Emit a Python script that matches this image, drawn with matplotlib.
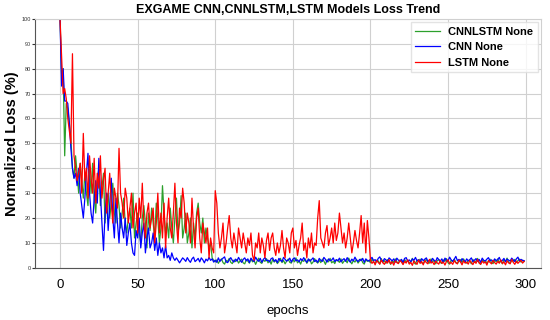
import numpy as np
import matplotlib
matplotlib.use("Agg")
import matplotlib.pyplot as plt

plt.rcParams['font.family'] = ['Liberation Sans', 'DejaVu Sans']

# loss values (%), one per epoch
cnnlstm = [
    100, 78, 80, 45, 66, 64, 58, 52, 40, 36, 45, 38, 30, 42, 35, 28, 38, 30, 25, 40,
    30, 42, 28, 22, 35, 40, 25, 32, 38, 18, 28, 30, 20, 26, 34, 22, 18, 30, 25, 16,
    22, 28, 18, 14, 20, 24, 16, 30, 12, 18, 22, 14, 10, 20, 25, 18, 8, 22, 15, 24,
    18, 12, 26, 20, 10, 16, 33, 22, 14, 18, 12, 24, 16, 10, 20, 28, 14, 18, 29, 12,
    16, 22, 10, 14, 20, 8, 18, 12, 22, 26, 18, 14, 20, 10, 16, 12, 8, 10, 4, 3,
    2.4, 3.2, 1.8, 2.9, 3.6, 2.1, 1.5, 3.0, 2.6, 3.8, 2.2, 1.7, 3.1, 2.5, 3.4, 1.9, 2.8, 3.5, 2.0, 1.6,
    3.3, 2.7, 1.9, 3.6, 2.4, 3.0, 1.4, 2.8, 3.9, 2.2, 1.8, 3.2, 2.6, 3.7, 2.0, 2.9, 1.5, 3.4, 2.3, 3.1,
    1.7, 2.5, 3.8, 2.1, 3.0, 1.6, 2.7, 3.5, 2.2, 1.9, 3.3, 2.4, 4.0, 2.0, 2.8, 1.5, 3.1, 2.6, 3.6, 1.8,
    2.9, 3.4, 1.6, 2.3, 3.7, 2.5, 1.9, 3.0, 2.1, 3.5, 2.7, 1.4, 3.2, 2.4, 3.8, 2.0, 2.6, 1.7, 3.3, 2.9,
    2.2, 3.6, 1.8, 2.7, 3.1, 2.0, 3.9, 2.5, 1.6, 3.0, 2.3, 3.4, 1.9, 2.8, 3.6, 2.1, 1.5, 3.2, 2.6, 3.0,
    2.0, 3.5, 2.4, 1.7, 3.1, 2.8, 1.5, 3.7, 2.2, 2.9, 1.8, 3.3, 2.6, 1.4, 3.0, 2.1, 3.6, 2.4, 1.9, 3.2,
    2.7, 1.6, 3.4, 2.3, 3.0, 1.8, 2.5, 3.8, 2.1, 1.5, 3.1, 2.6, 3.5, 2.0, 1.7, 2.9, 3.3, 2.2, 1.9, 3.6,
    2.4, 3.0, 1.6, 2.8, 3.4, 2.1, 1.8, 3.2, 2.6, 3.7, 2.0, 1.5, 3.1, 2.5, 3.5, 2.2, 1.7, 2.9, 3.3, 2.1,
    3.6, 2.3, 1.9, 3.0, 2.7, 1.6, 3.4, 2.2, 2.8, 3.8, 2.0, 1.5, 3.2, 2.5, 3.0, 1.8, 2.6, 3.5, 2.1, 1.7,
    3.1, 2.4, 3.6, 2.0, 2.8, 1.6, 3.3, 2.5, 3.9, 2.2, 1.8, 3.0, 2.7, 3.4, 2.1, 2.9, 3.5, 2.3, 3.0, 2.6,
]

cnn = [
    100, 73, 80, 67, 67, 66, 58, 48, 40, 36, 38, 33, 40, 30, 25, 20, 28, 38, 46, 30,
    22, 18, 28, 35, 26, 44, 30, 18, 7, 22, 30, 15, 25, 36, 20, 12, 28, 18, 10, 22,
    16, 12, 20, 9, 14, 18, 10, 6, 5, 15, 12, 20, 8, 14, 18, 6, 12, 16, 8, 10,
    14, 7, 12, 5, 10, 6, 8, 4, 9, 4, 5, 3, 6, 4, 3, 4, 3, 2, 3, 4,
    3.4, 2.6, 4.1, 3.0, 2.2, 3.6, 4.3, 2.5, 3.1, 3.8, 2.4, 4.0, 3.2, 2.0, 3.5, 2.8, 4.2, 3.0, 3.6, 2.3,
    3.1, 2.2, 4.0, 2.6, 3.3, 3.9, 4.4, 2.4, 2.1, 3.2, 4.1, 3.0, 2.3, 3.5, 2.7, 4.2, 3.1, 2.2, 3.4, 4.0,
    2.8, 3.6, 2.1, 3.9, 3.0, 2.5, 4.3, 3.2, 2.6, 3.8, 2.2, 3.4, 4.1, 2.9, 3.1, 2.4, 3.7, 4.0, 2.6, 3.3,
    2.1, 3.8, 3.0, 2.5, 4.2, 3.4, 2.7, 3.1, 3.9, 2.3, 3.5, 4.0, 2.8, 3.2, 2.4, 3.7, 2.9, 4.1, 3.0, 2.2,
    3.6, 2.7, 3.3, 4.0, 2.5, 3.1, 2.2, 3.8, 3.0, 2.6, 4.2, 3.4, 2.3, 3.6, 2.9, 3.1, 4.0, 2.5, 3.3, 2.8,
    3.9, 2.4, 3.2, 3.7, 2.6, 4.1, 3.0, 2.3, 3.5, 2.8, 4.3, 3.1, 2.5, 3.4, 2.9, 3.8, 2.2, 3.6, 3.0, 2.7,
    3.5, 4.2, 2.9, 3.3, 2.4, 3.8, 4.4, 3.0, 2.6, 3.7, 3.2, 2.5, 4.0, 3.4, 2.8, 3.6, 2.3, 3.9, 3.1, 2.6,
    3.4, 2.2, 3.8, 4.1, 2.7, 3.2, 2.4, 3.6, 3.0, 4.2, 2.8, 3.3, 2.1, 3.7, 2.9, 3.5, 4.0, 2.6, 3.1, 2.4,
    3.8, 3.0, 2.5, 4.1, 3.3, 2.7, 3.6, 2.2, 3.9, 3.1, 2.8, 4.3, 3.2, 2.6, 3.5, 4.6, 2.9, 3.4, 2.3, 3.7,
    3.0, 2.4, 3.6, 2.8, 3.3, 4.0, 2.5, 3.1, 3.7, 2.6, 3.4, 2.2, 3.9, 3.0, 2.7, 3.5, 4.1, 2.8, 3.2, 2.5,
    3.6, 2.9, 3.3, 4.2, 2.6, 3.0, 3.8, 2.4, 3.5, 3.1, 2.7, 3.9, 3.2, 2.5, 3.6, 4.3, 2.8, 3.4, 3.0, 2.9,
]

lstm = [
    100, 85, 70, 72, 68, 60, 55, 50, 86, 45, 40, 35, 38, 42, 30, 54, 35, 40, 28, 45,
    36, 30, 44, 26, 38, 32, 45, 28, 35, 40, 22, 30, 38, 26, 18, 32, 28, 24, 48, 30,
    26, 20, 32, 28, 18, 24, 30, 16, 22, 26, 14, 28, 20, 34, 18, 12, 22, 26, 16, 20,
    24, 10, 18, 30, 14, 22, 12, 26, 8, 20, 28, 16, 12, 22, 34, 18, 10, 24, 20, 32,
    26, 14, 22, 18, 10, 28, 16, 8, 20, 24, 12, 6, 18, 14, 10, 16, 4, 12, 8, 6,
    31, 26, 14, 8, 12, 18, 6, 10, 16, 21, 12, 8, 14, 10, 6, 16, 12, 8, 14, 10,
    6, 12, 9, 14, 5, 3, 10, 8, 14, 6, 12, 9, 4, 11, 14, 7, 12, 14, 8, 5,
    10, 6, 9, 15, 8, 4, 12, 10, 6, 14, 16, 8, 11, 5, 9, 12, 18, 7, 10, 4,
    12, 8, 14, 6, 10, 9, 20, 27, 12, 10, 8, 14, 17, 9, 12, 16, 10, 18, 11, 14,
    22, 16, 10, 14, 8, 12, 18, 12, 6, 10, 15, 11, 8, 14, 21, 10, 18, 6, 19, 12,
    3.0, 1.8, 2.6, 1.2, 2.9, 2.2, 1.5, 3.1, 2.0, 1.4, 2.7, 1.9, 3.3, 1.6, 2.4, 1.1, 2.8, 2.1, 1.7, 3.0,
    2.3, 1.3, 2.6, 1.9, 3.2, 1.5, 2.2, 1.0, 2.8, 2.0, 1.4, 3.1, 1.8, 2.5, 1.2, 2.9, 2.1, 1.6, 3.4, 1.9,
    2.4, 1.3, 2.7, 2.0, 1.5, 3.0, 1.8, 2.3, 1.1, 2.6, 3.2, 1.7, 2.2, 1.4, 2.9, 2.0, 1.6, 3.1, 2.4, 1.2,
    2.8, 1.9, 2.3, 1.5, 3.0, 2.1, 1.3, 2.6, 1.8, 3.3, 2.0, 1.4, 2.7, 1.9, 2.4, 1.1, 2.9, 2.2, 1.6, 3.0,
    2.1, 1.5, 2.6, 1.9, 3.2, 1.7, 2.4, 1.2, 2.8, 2.0, 1.6, 3.4, 2.2, 1.4, 2.7, 1.8, 2.5, 3.0, 1.9, 2.6,
]

epochs = np.arange(len(cnn))

fig = plt.figure(figsize=(5.5, 3.2), dpi=100)
ax = fig.add_axes([0.064, 0.163, 0.92, 0.778])

ax.plot(epochs, cnnlstm, color="#2ca02c", lw=0.9, label="CNNLSTM None")
ax.plot(epochs, cnn, color="#0000ff", lw=0.9, label="CNN None")
ax.plot(epochs, lstm, color="#ff0000", lw=0.9, label="LSTM None")

ax.set_xlim(-16, 310)
ax.set_ylim(0, 100)
ax.set_xticks(range(0, 301, 50))
ax.set_yticks(range(0, 101, 10))
ax.tick_params(axis="x", labelsize=9.5, length=0, pad=8)
ax.tick_params(axis="y", labelsize=4, length=2, pad=1, colors="#333333")
ax.grid(True, color="#d0d0d0", lw=0.8)
for s in ["top", "right"]:
    ax.spines[s].set_color("#d0d0d0")
for s in ["left", "bottom"]:
    ax.spines[s].set_color("#555555")

ax.set_title("EXGAME CNN,CNNLSTM,LSTM Models Loss Trend", fontsize=9, fontweight="bold", pad=4)
ax.set_ylabel("Normalized Loss (%)", fontsize=10.5, fontweight="bold", labelpad=2)
ax.set_xlabel("epochs", fontsize=9.5, labelpad=10)

leg = ax.legend(loc="upper right", prop={"weight": "bold", "size": 8},
                frameon=True, fancybox=False, borderaxespad=0.3, handlelength=2.2)
leg.get_frame().set_edgecolor("#dddddd")

fig.savefig("out.png", dpi=100)
